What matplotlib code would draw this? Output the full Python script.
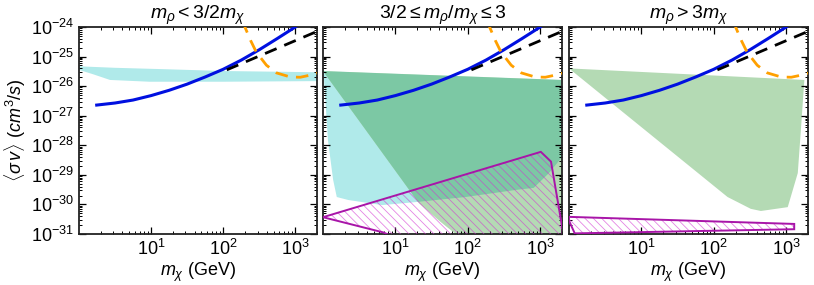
import matplotlib
matplotlib.use("Agg")
import matplotlib.pyplot as plt
from matplotlib.patches import Polygon
from matplotlib.ticker import FixedLocator, LogLocator, NullFormatter
import numpy as np

plt.rcParams['font.family'] = ['Liberation Sans', 'DejaVu Sans']
plt.rcParams['mathtext.fontset'] = 'custom'
plt.rcParams['mathtext.rm'] = 'Liberation Sans'
plt.rcParams['mathtext.it'] = 'Liberation Sans:italic'
plt.rcParams['mathtext.bf'] = 'Liberation Sans:bold'
plt.rcParams['hatch.linewidth'] = 0.6

titles = [r'$m_\rho < 3/2 m_\chi$', r'$3/2 \leq m_\rho/m_\chi \leq 3$', r'$m_\rho > 3 m_\chi$']

# blue solid curve
blue_m = [1.76, 3.16, 5.62, 10, 17.8, 31.6, 56.2, 100, 178, 316, 562, 1000, 1050]
blue_s = [2.29e-27, 2.69e-27, 3.39e-27, 4.79e-27, 7.24e-27, 1.17e-26, 2.04e-26,
          3.72e-26, 7.59e-26, 1.70e-25, 4.07e-25, 1.0e-24, 1.1e-24]
# black dashed line
black_m = [112, 2000]
black_s = [3.55e-26, 7.1e-25]
# orange dashed curve
orange_m = [186, 200, 240, 288, 398, 550, 851, 1175, 1585, 2040]
orange_s = [1.6e-24, 1.0e-24, 3.5e-25, 1.41e-25, 5.1e-26, 2.8e-26, 2.04e-26, 2.0e-26, 2.34e-26, 2.75e-26]

# panel 1 cyan band
band_up_m = [1, 3.16, 16.6, 107, 2000]
band_up_s = [4.68e-26, 4.17e-26, 3.72e-26, 3.24e-26, 2.95e-26]
band_lo_m = [1, 1.58, 2.69, 9.5, 100, 2000]
band_lo_s = [3.55e-26, 2.51e-26, 1.62e-26, 1.41e-26, 1.41e-26, 1.48e-26]

# panel 2 cyan region
cyan2_m = [1, 1950, 2000, 1320, 813, 457, 93, 19, 6.6, 2.24, 1.55, 1.38, 1.17, 1.02]
cyan2_s = [3.24e-26, 1.62e-26, 3.98e-29, 1.15e-29, 3.63e-30, 3.09e-30, 1.78e-30,
           1.20e-30, 9.5e-31, 1.41e-30, 1.78e-30, 6.8e-30, 1.51e-28, 2.75e-26]
# panel 2 green region
green2_m = [1, 1950, 2040, 70, 68, 42, 21]
green2_s = [3.24e-26, 1.62e-26, 3.2e-32, 3.2e-32, 1.0e-31, 2.57e-31, 1.12e-30]
# panel 2 magenta hatched region
mag2_m = [1, 1020, 1410, 2040, 2040, 20, 6.9]
mag2_s = [3.7e-31, 6.0e-29, 2.8e-29, 1.38e-31, 3.2e-32, 3.2e-32, 1.12e-31]

# panel 3 green region
green3_m = [1, 1780, 1585, 1445, 1050, 447, 324, 155]
green3_s = [3.98e-26, 1.62e-26, 2.63e-28, 1.15e-29, 8.1e-31, 6.0e-31, 7.1e-31, 1.78e-30]
# panel 3 magenta hatched region
mag3_m = [1, 1290, 1290, 1.2, 1]
mag3_s = [3.8e-31, 2.19e-31, 1.45e-31, 1.05e-31, 2.82e-31]

CYAN = '#b0eaea'
LGREEN = '#b4dab4'
DGREEN = '#7cc8a4'
MAG_EDGE = '#a815a8'
HATCH_C = (0.82, 0.2, 0.82, 0.6)

W, H = 814, 285
fig = plt.figure(figsize=(W / 100, H / 100), dpi=100)
lefts = [79, 323, 569]
widths = [238, 239, 239]
top, bottom = 27, 234
axes = []
for l, w in zip(lefts, widths):
    ax = fig.add_axes([l / W, (H - bottom) / H, w / W, (bottom - top) / H])
    axes.append(ax)


def hatched(ax, m, s):
    pts = np.column_stack([m, s])
    ax.add_patch(Polygon(pts, closed=True, facecolor='none', edgecolor=HATCH_C,
                         hatch='\\\\\\\\', linewidth=0, zorder=3))
    ax.add_patch(Polygon(pts, closed=True, facecolor='none', edgecolor=MAG_EDGE,
                         linewidth=1.4, zorder=4))


for i, ax in enumerate(axes):
    ax.set_xscale('log')
    ax.set_yscale('log')
    ax.set_xlim(1, 2000)
    ax.set_ylim(1e-31, 1e-24)

    if i == 0:
        xs = band_up_m + band_lo_m[::-1]
        ys = band_up_s + band_lo_s[::-1]
        ax.add_patch(Polygon(np.column_stack([xs, ys]), closed=True, facecolor=CYAN,
                             edgecolor='none', zorder=1))
    elif i == 1:
        pa = Polygon(np.column_stack([cyan2_m, cyan2_s]), closed=True, facecolor=CYAN,
                     edgecolor='none', zorder=1)
        ax.add_patch(pa)
        ax.add_patch(Polygon(np.column_stack([green2_m, green2_s]), closed=True,
                             facecolor=LGREEN, edgecolor='none', zorder=1.1))
        pb = Polygon(np.column_stack([green2_m, green2_s]), closed=True,
                     facecolor=DGREEN, edgecolor='none', zorder=1.2)
        ax.add_patch(pb)
        pb.set_clip_path(pa)
        hatched(ax, mag2_m, mag2_s)
    else:
        ax.add_patch(Polygon(np.column_stack([green3_m, green3_s]), closed=True,
                             facecolor=LGREEN, edgecolor='none', zorder=1))
        hatched(ax, mag3_m, mag3_s)

    ax.plot(blue_m, blue_s, color='#0010e0', lw=2.2, zorder=5)
    ax.plot(black_m, black_s, color='black', lw=2.0, ls=(0, (4.5, 3)), zorder=5)
    ax.plot(orange_m, orange_s, color='#ffa000', lw=2.0, ls=(0, (4.5, 3)), zorder=5)

    ax.xaxis.set_major_locator(FixedLocator([10, 100, 1000]))
    ax.xaxis.set_minor_locator(LogLocator(base=10, subs=np.arange(2, 10), numticks=20))
    ax.xaxis.set_minor_formatter(NullFormatter())
    ax.yaxis.set_major_locator(FixedLocator([1e-31, 1e-30, 1e-29, 1e-28, 1e-27, 1e-26, 1e-25, 1e-24]))
    ax.yaxis.set_minor_locator(LogLocator(base=10, subs=np.arange(2, 10), numticks=20))
    ax.yaxis.set_minor_formatter(NullFormatter())
    ax.tick_params(which='both', direction='in', top=True, right=True, labelsize=13)
    ax.tick_params(which='major', length=5, width=0.9)
    ax.tick_params(which='minor', length=2.5, width=0.7)
    for sp in ax.spines.values():
        sp.set_linewidth(1.3)
        sp.set_color('#222222')
    if i > 0:
        ax.tick_params(labelleft=False)
    ax.set_title(titles[i], fontsize=14, pad=3)
    ax.set_xlabel(r'$m_\chi$ (GeV)', fontsize=13, labelpad=1)

axes[0].set_ylabel(r'$\langle\sigma\, v\rangle\ (cm^3/s)$', fontsize=13, labelpad=2)

fig.savefig('out.png', dpi=100)
